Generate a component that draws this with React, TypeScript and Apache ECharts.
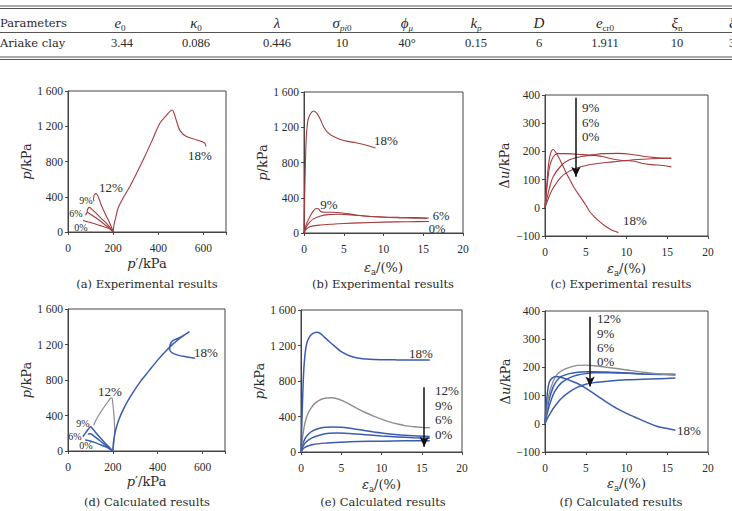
import React, { useEffect, useRef } from "react";
import * as echarts from "echarts";

const RED = "#a63a3c";
const BLUE = "#3a5cb0";
const GRAY = "#8e8e8e";
const INK = "#2a2a2a";
const NUMF = "Liberation Serif";
const WORDF = "DejaVu Serif";

// ---------- table ----------
const tableRowLabels = ["Parameters", "Ariake clay"];
const tableHeaders = [
  "{i|e}{s|0}",
  "{i|κ}{s|0}",
  "{i|λ}",
  "{i|σ}{si|pi}{s|0}",
  "{i|ϕ}{si|μ}",
  "{i|k}{si|p}",
  "{i|D}",
  "{i|e}{s|cr0}",
  "{i|ξ}{s|n}",
  "{i|ξ}{s|c}",
];
const tableValues = ["3.44", "0.086", "0.446", "10", "40°", "0.15", "6", "1.911", "10", "3"];

// ---------- (a) experimental p'-q ----------
const a0 = [[200,0],[190,25],[170,50],[140,75],[110,100],[85,118],[67,130]];
const a6 = [[200,0],[188,35],[165,80],[140,130],[115,175],[97,205],[88,222],[82,212],[78,188]];
const a9 = [[200,0],[190,40],[170,100],[145,160],[122,220],[104,262],[95,280],[89,268],[85,240],[86,218]];
const a12 = [[200,0],[195,40],[185,100],[170,180],[155,260],[145,320],[137,380],[130,420],[124,435],[118,425],[114,400],[113,370],[116,350]];
const a18 = [[200,0],[203,70],[210,150],[222,272],[244,385],[274,517],[304,668],[340,857],[377,1064],[407,1234],[437,1328],[462,1385],[470,1347],[484,1234],[496,1151],[525,1083],[570,1045],[605,1010],[611,970]];

// ---------- (b) experimental ea-q ----------
const b0 = [[0,0],[0.2,35],[0.5,60],[1,78],[2,90],[3.5,100],[5,108],[7,115],[10,123],[13,128],[15.7,130]];
const b6 = [[0,0],[0.3,70],[0.7,120],[1.2,160],[2,190],[3,208],[4.5,212],[6,205],[8,190],[10,182],[12,178],[14,175],[15.7,170]];
const b9 = [[0,0],[0.3,100],[0.7,180],[1.1,240],[1.5,278],[1.8,275],[2.1,245],[2.6,235],[3.5,235],[5,225],[6.5,205],[8,190],[10,178],[12,172],[14,168],[15.5,165]];
const b18 = [[0,0],[0.08,400],[0.18,800],[0.3,1100],[0.5,1280],[0.8,1350],[1.2,1385],[1.6,1360],[2.0,1300],[2.5,1200],[3.0,1140],[3.7,1095],[4.5,1065],[5.5,1040],[6.5,1025],[7.5,1005],[8.3,985],[9,965]];

// ---------- (c) experimental ea-du ----------
const c0 = [[0,0],[0.5,40],[1,70],[2,110],[3,130],[4,142],[5,150],[6.5,157],[8,162],[10,168],[12,172],[14,175],[15.5,176]];
const c6 = [[0,0],[0.5,65],[1,110],[2,150],[3,170],[4.5,182],[6,186],[7,182],[8,175],[9.5,168],[11,165],[12,157],[13,153],[14.5,150],[15.5,145]];
const c9 = [[0,0],[0.3,90],[0.6,150],[1,180],[1.5,192],[2.5,192],[4,190],[5.5,187],[7,192],[9,193],[10.5,190],[12,183],[13.5,178],[15.5,175]];
const c18 = [[0,0],[0.2,70],[0.4,146],[0.7,195],[1,207],[1.3,198],[1.7,178],[2,160],[2.5,130],[3,102],[3.6,70],[4.3,40],[5,10],[5.5,-14],[6.1,-33],[6.7,-49],[7.3,-63],[8,-76],[9,-88]];

// ---------- (d) calculated p'-q ----------
const d0 = [[200,0],[185,25],[165,50],[140,75],[115,100],[95,115],[80,125],[77,128]];
const d6 = [[200,0],[185,30],[165,70],[145,110],[125,150],[110,180],[100,195],[94,195],[90,186]];
const d9 = [[200,0],[185,40],[165,90],[140,160],[120,220],[106,262],[101,272],[92,250],[80,210],[70,175],[67,160]];
const d12 = [[200,0],[205,100],[208,220],[207,330],[204,430],[200,530],[196,600],[190,595],[178,555],[165,510],[150,455],[135,395],[124,345],[117,305],[114,290]];
const d18 = [[200,0],[202,80],[207,170],[215,260],[228,360],[245,460],[268,570],[295,680],[325,790],[360,900],[395,1010],[430,1110],[470,1210],[510,1290],[542,1345],[500,1280],[463,1234],[453,1150],[462,1110],[490,1080],[530,1060],[567,1045]];

// ---------- (e) calculated ea-q ----------
const e0 = [[0,0],[0.3,40],[0.7,62],[1.5,85],[3,100],[5,110],[7,117],[10,122],[13,126],[16,128]];
const e6 = [[0,0],[0.2,55],[0.5,100],[1,140],[1.7,172],[2.5,195],[3.5,210],[4.5,214],[6,208],[8,195],[10,180],[12,168],[14,160],[16,155]];
const e9 = [[0,0],[0.2,80],[0.5,150],[0.9,200],[1.5,240],[2.2,265],[3,278],[4,282],[5,278],[6.5,262],[8,240],[10,214],[12,195],[14,183],[16,175]];
const e12 = [[0,0],[0.1,90],[0.25,200],[0.5,330],[0.8,420],[1.2,490],[1.7,545],[2.3,585],[3,605],[3.8,612],[4.5,600],[5.2,575],[6,540],[7,490],[8,445],[9,405],[10,370],[11,340],[12,315],[13,295],[14,285],[15,278],[16,274]];
const e18 = [[0,0],[0.1,300],[0.2,600],[0.33,900],[0.5,1100],[0.7,1220],[1,1290],[1.4,1330],[1.9,1348],[2.4,1335],[2.9,1295],[3.5,1245],[4.2,1190],[5,1130],[6,1085],[7,1060],[8.5,1045],[10,1040],[12,1038],[14,1037],[16,1037]];

// ---------- (f) calculated ea-du ----------
const f0 = [[0,0],[0.3,20],[0.7,40],[1.2,62],[2,90],[3,113],[4,130],[5,140],[6,146],[8,152],[10,156],[12,158],[14,160],[16,162]];
const f6 = [[0,0],[0.3,40],[0.7,80],[1.2,115],[2,145],[3,163],[4,173],[5,178],[6,181],[8,181],[10,179],[12,177],[14,176],[16,176]];
const f9 = [[0,0],[0.2,40],[0.5,85],[1,130],[1.5,155],[2,168],[3,178],[4,183],[5,185],[6,185],[8,183],[10,180],[12,177],[14,175],[16,174]];
const f12 = [[0,0],[0.2,50],[0.5,105],[1,150],[1.5,175],[2,188],[3,200],[4,207],[5,208],[6,206],[8,199],[10,191],[12,183],[14,177],[16,172]];
const f18 = [[0,0],[0.1,50],[0.2,85],[0.4,132],[0.6,152],[0.9,163],[1.3,168],[1.8,166],[2.5,160],[3.2,152],[4,143],[4.8,130],[5.6,115],[6.5,97],[7.5,78],[8.8,55],[10,37],[11.3,20],[12.5,5],[13.7,-9],[15,-17],[16,-23]];

// arrows (data coords): [x, yFrom, yTo]
const arrowC = [3.8, 390, 110];
const arrowE = [15.3, 729, 60];
const arrowF = [5.53, 380, 132];

// axis ranges [min, max, interval]
const pqX = [0, 700, 200];
const pqY = [0, 1600, 400];
const epsX = [0, 20, 5];
const duY = [-100, 400, 100];

const captions = [
  "(a) Experimental results",
  "(b) Experimental results",
  "(c) Experimental results",
  "(d) Calculated results",
  "(e) Calculated results",
  "(f) Calculated results",
];

const fmtY = (v: number) => {
  if (v < 0) return "−" + Math.abs(v);
  if (v >= 1000) return `${Math.floor(v / 1000)} ${String(v % 1000).padStart(3, "0")}`;
  return String(v);
};

const nameRich = {
  i: { fontFamily: WORDF, fontStyle: "italic", fontSize: 13, color: INK },
  n: { fontFamily: WORDF, fontSize: 13, color: INK },
  s: { fontFamily: WORDF, fontSize: 8.5, color: INK, verticalAlign: "bottom", lineHeight: 17 },
};

const grids = [
  { left: 68, top: 91, width: 158, height: 141 },
  { left: 304, top: 92, width: 159, height: 141 },
  { left: 545, top: 95, width: 163, height: 141 },
  { left: 68, top: 309, width: 157, height: 142 },
  { left: 301, top: 310, width: 161, height: 142 },
  { left: 545, top: 311, width: 163, height: 141 },
];

const xSpec = [pqX, epsX, epsX, pqX, epsX, epsX];
const ySpec = [pqY, pqY, duY, pqY, pqY, duY];
const xNames = ["{i|p}{n|′/kPa}", "{i|ε}{s|a}{n|/(%)}", "{i|ε}{s|a}{n|/(%)}", "{i|p}{n|′/kPa}", "{i|ε}{s|a}{n|/(%)}", "{i|ε}{s|a}{n|/(%)}"];
const yNames = ["{i|p}{n|/kPa}", "{i|p}{n|/kPa}", "{n|Δ}{i|u}{n|/kPa}", "{i|p}{n|/kPa}", "{i|p}{n|/kPa}", "{n|Δ}{i|u}{n|/kPa}"];
const xGaps = [25, 26, 24, 24, 24, 23];
const yGaps = [25, 30, 34, 25, 30, 33];

function mkLine(data: number[][], color: string, idx: number, width: number, extra: any = {}) {
  return {
    type: "line",
    data,
    xAxisIndex: idx,
    yAxisIndex: idx,
    showSymbol: false,
    symbol: "none",
    smooth: 0.3,
    silent: true,
    lineStyle: { color, width },
    itemStyle: { color },
    z: 3,
    ...extra,
  };
}

function arrow(a: number[]) {
  return {
    markLine: {
      silent: true,
      symbol: ["none", "arrow"],
      symbolSize: [7, 10],
      lineStyle: { color: "#111", width: 1.5, type: "solid" },
      label: { show: false },
      data: [[{ coord: [a[0], a[1]] }, { coord: [a[0], a[2]] }]],
    },
  };
}

function txt(text: string, x: number, y: number, size = 13, align = "center") {
  return {
    type: "text",
    silent: true,
    style: { text, x, y, fill: INK, fontFamily: NUMF, fontSize: size, align, verticalAlign: "middle" },
  };
}

export default function App() {
  const ref = useRef<HTMLDivElement>(null);
  useEffect(() => {
    if (!ref.current) return;
    const chart = echarts.init(ref.current, undefined, { renderer: "svg" });

    const colX = [120, 196, 277, 342, 407, 476, 539, 605, 677, 729];
    const headRich = {
      i: { fontFamily: NUMF, fontStyle: "italic", fontSize: 15, color: INK },
      s: { fontFamily: NUMF, fontSize: 9, color: INK, verticalAlign: "bottom", lineHeight: 18 },
      si: { fontFamily: NUMF, fontStyle: "italic", fontSize: 9, color: INK, verticalAlign: "bottom", lineHeight: 18 },
    };
    const graphic: any[] = [];
    // table rules
    [6, 8.5, 32.5, 57, 59.5].forEach((y) =>
      graphic.push({ type: "line", silent: true, shape: { x1: 0, y1: y, x2: 732, y2: y }, style: { stroke: "#555", lineWidth: 1 } })
    );
    graphic.push({ type: "text", silent: true, style: { text: tableRowLabels[0], x: 0, y: 23, fill: INK, fontFamily: WORDF, fontSize: 11.5, align: "left", verticalAlign: "middle" } });
    graphic.push({ type: "text", silent: true, style: { text: tableRowLabels[1], x: 0, y: 43, fill: INK, fontFamily: WORDF, fontSize: 11.5, align: "left", verticalAlign: "middle" } });
    tableHeaders.forEach((h, k) => {
      const last = k === tableHeaders.length - 1;
      graphic.push({ type: "text", silent: true, style: { text: h, rich: headRich, x: colX[k], y: 23, align: last ? "left" : "center", verticalAlign: "middle", fontSize: 15, fontFamily: NUMF, fill: INK } });
    });
    tableValues.forEach((v, k) => {
      const last = k === tableValues.length - 1;
      graphic.push({ type: "text", silent: true, style: { text: v, x: last ? colX[k] : (k === 0 ? 122 : colX[k]), y: 43, align: last ? "left" : "center", verticalAlign: "middle", fontSize: 12.5, fontFamily: NUMF, fill: INK } });
    });

    // curve labels
    graphic.push(txt("18%", 200, 155), txt("12%", 111, 187), txt("9%", 86, 200.5, 10), txt("6%", 76, 213, 10), txt("0%", 81, 227, 10));
    graphic.push(txt("18%", 386, 140), txt("9%", 329, 204), txt("6%", 441, 215.5, 12.5), txt("0%", 437, 228.5, 12.5));
    graphic.push(txt("9%", 582, 107, 13, "left"), txt("6%", 582, 122, 13, "left"), txt("0%", 582, 136, 13, "left"), txt("18%", 635, 220));
    graphic.push(txt("18%", 206, 352), txt("12%", 110, 391), txt("9%", 83, 423, 10), txt("6%", 75, 436, 10), txt("0%", 86, 445, 10));
    graphic.push(txt("18%", 421, 353), txt("12%", 435, 390, 13, "left"), txt("9%", 435, 405, 13, "left"), txt("6%", 435, 419, 13, "left"), txt("0%", 435, 434, 13, "left"));
    graphic.push(txt("12%", 597, 318, 13, "left"), txt("9%", 597, 333, 13, "left"), txt("6%", 597, 347, 13, "left"), txt("0%", 597, 361, 13, "left"), txt("18%", 677, 430, 13, "left"));

    // captions
    const capX = [147, 383, 621, 147, 383, 621];
    const capY = [284, 284, 284, 502, 502, 502];
    captions.forEach((c, k) =>
      graphic.push({ type: "text", silent: true, style: { text: c, x: capX[k], y: capY[k], fill: INK, fontFamily: WORDF, fontSize: 11.5, align: "center", verticalAlign: "middle" } })
    );

    const xAxis = xSpec.map((s, k) => ({
      type: "value",
      gridIndex: k,
      min: s[0],
      max: s[1],
      interval: s[2],
      name: xNames[k],
      nameLocation: "middle",
      nameGap: xGaps[k],
      nameTextStyle: { rich: nameRich, fontFamily: WORDF, fontSize: 13, color: INK },
      axisLine: { show: true, onZero: false, lineStyle: { color: "#444", width: 1 } },
      axisTick: { show: true, inside: false, length: 3, lineStyle: { color: "#444" } },
      splitLine: { show: false },
      axisLabel: {
        fontFamily: NUMF,
        fontSize: 11.5,
        color: INK,
        margin: 10,
        formatter: (v: number) => (s === pqX && v === s[1] ? "" : String(v)),
      },
    }));
    const yAxis = ySpec.map((s, k) => ({
      type: "value",
      gridIndex: k,
      min: s[0],
      max: s[1],
      interval: s[2],
      name: yNames[k],
      nameLocation: "middle",
      nameRotate: 90,
      nameGap: yGaps[k],
      nameTextStyle: { rich: nameRich, fontFamily: WORDF, fontSize: 13, color: INK },
      axisLine: { show: true, onZero: false, lineStyle: { color: "#444", width: 1 } },
      axisTick: { show: true, inside: false, length: 3, lineStyle: { color: "#444" } },
      splitLine: { show: false },
      axisLabel: { fontFamily: NUMF, fontSize: 11.5, color: INK, margin: 5, formatter: fmtY },
    }));

    const RW = 1.1;
    const BW = 1.5;
    const series: any[] = [
      mkLine(a0, RED, 0, RW), mkLine(a6, RED, 0, RW), mkLine(a9, RED, 0, RW), mkLine(a12, RED, 0, RW), mkLine(a18, RED, 0, RW),
      mkLine(b0, RED, 1, RW), mkLine(b6, RED, 1, RW), mkLine(b9, RED, 1, RW), mkLine(b18, RED, 1, RW),
      mkLine(c0, RED, 2, RW, arrow(arrowC)), mkLine(c6, RED, 2, RW), mkLine(c9, RED, 2, RW), mkLine(c18, RED, 2, RW),
      mkLine(d0, BLUE, 3, BW), mkLine(d6, BLUE, 3, BW), mkLine(d9, BLUE, 3, BW), mkLine(d12, GRAY, 3, 1.2), mkLine(d18, BLUE, 3, BW),
      mkLine(e0, BLUE, 4, BW, arrow(arrowE)), mkLine(e6, BLUE, 4, BW), mkLine(e9, BLUE, 4, BW), mkLine(e12, GRAY, 4, 1.4), mkLine(e18, BLUE, 4, BW),
      mkLine(f0, BLUE, 5, BW, arrow(arrowF)), mkLine(f6, BLUE, 5, BW), mkLine(f9, BLUE, 5, BW), mkLine(f12, GRAY, 5, 1.4), mkLine(f18, BLUE, 5, BW),
    ];

    chart.setOption({
      animation: false,
      backgroundColor: "#ffffff",
      grid: grids.map((g) => ({ ...g, show: true, borderColor: "#444", borderWidth: 1, backgroundColor: "transparent", containLabel: false })),
      xAxis,
      yAxis,
      series,
      graphic,
    });
    return () => chart.dispose();
  }, []);
  return <div ref={ref} style={{ position: "absolute", left: 0, top: 0, width: 732, height: 511 }} />;
}
